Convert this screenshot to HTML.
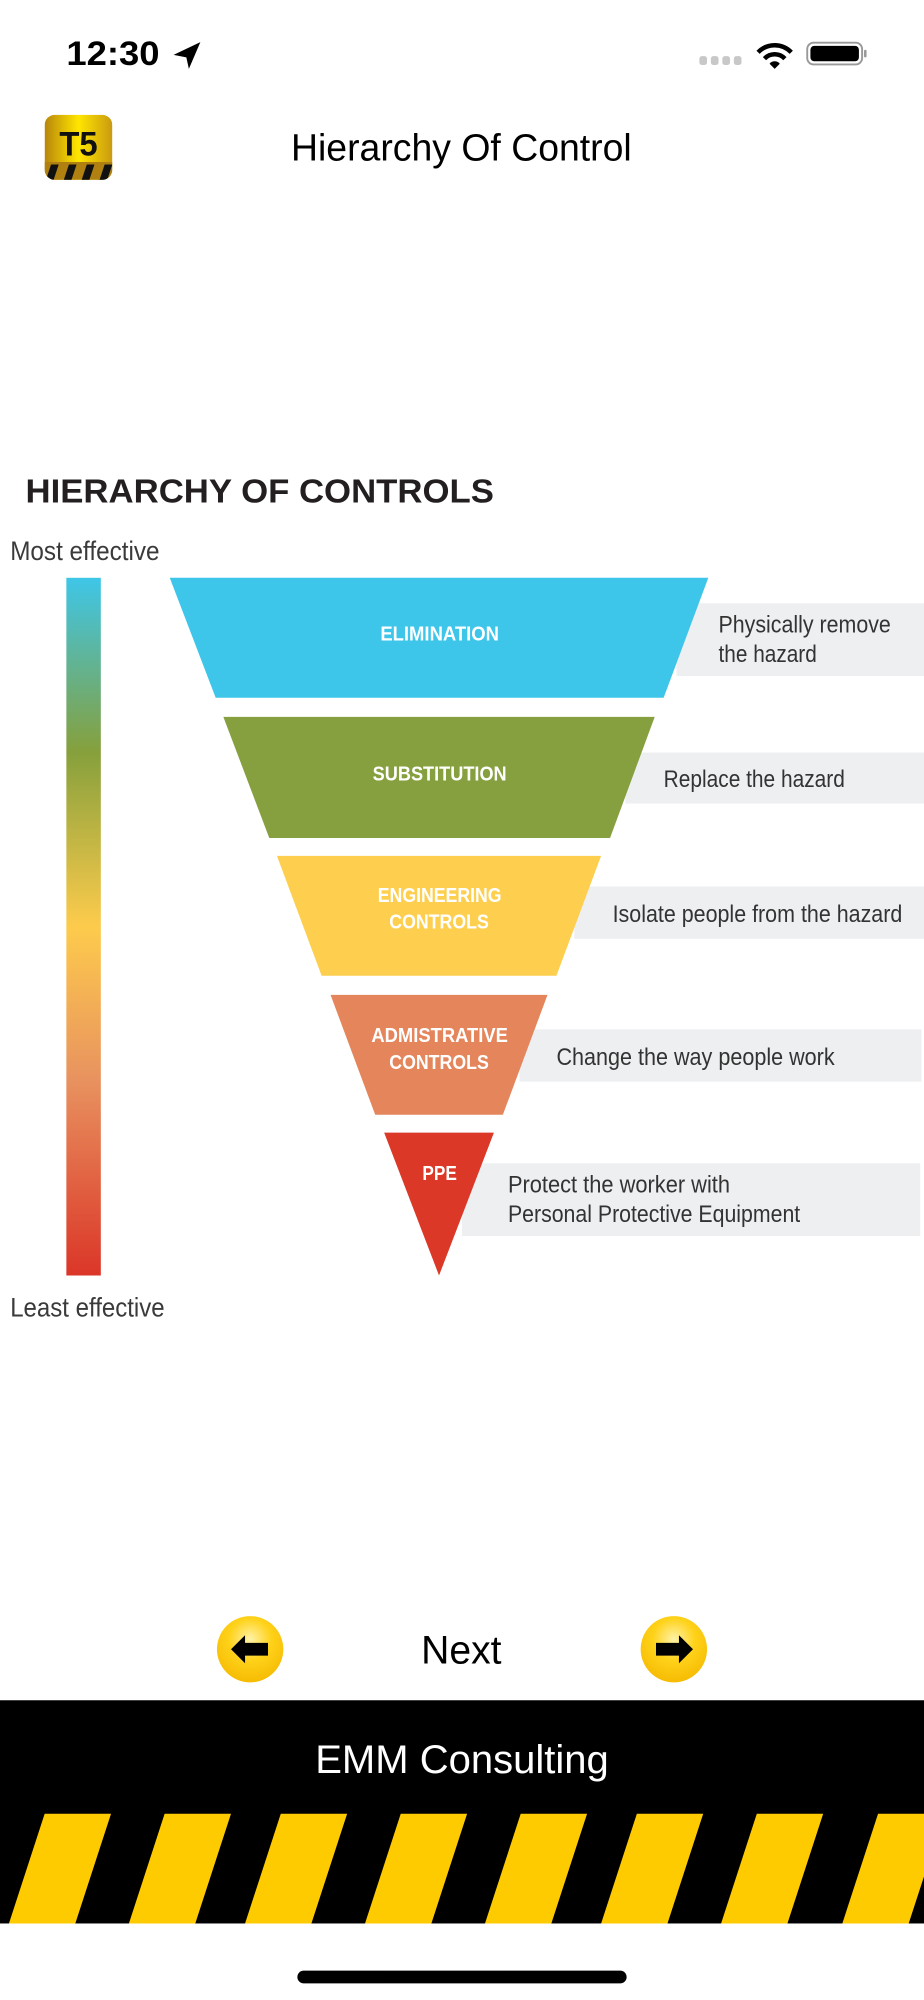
<!DOCTYPE html>
<html><head><meta charset="utf-8"><style>
html,body{margin:0;padding:0;background:#fff;}
svg{display:block;}
text{font-family:"Liberation Sans",sans-serif;}
</style></head><body>
<svg width="924" height="2000" viewBox="0 0 724 1568" preserveAspectRatio="none" xmlns="http://www.w3.org/2000/svg">
<defs>
<linearGradient id="bar" x1="0" y1="0" x2="0" y2="1">
<stop offset="0" stop-color="#3ec6e8"/><stop offset="0.25" stop-color="#86a03c"/>
<stop offset="0.5" stop-color="#fdcb4c"/><stop offset="0.72" stop-color="#e8925f"/>
<stop offset="1" stop-color="#db3628"/></linearGradient>
<linearGradient id="ic" x1="0" y1="0" x2="1" y2="0">
<stop offset="0" stop-color="#b8860b"/><stop offset="0.5" stop-color="#ffe600"/><stop offset="1" stop-color="#c99a10"/></linearGradient>
<radialGradient id="btn" cx="0.5" cy="0.35" r="0.7">
<stop offset="0" stop-color="#fff2a8"/><stop offset="0.45" stop-color="#ffd21a"/><stop offset="1" stop-color="#f5b800"/></radialGradient>
<clipPath id="icc"><rect x="35" y="90" width="53" height="51" rx="8"/></clipPath>
</defs>
<!-- status bar -->
<text x="52" y="51" font-weight="bold" font-size="27" textLength="73" lengthAdjust="spacingAndGlyphs" fill="#000">12:30</text>
<path d="M136 43 L157 33 L148 54 L146 45 Z" fill="#000"/>
<g fill="#c8c8c8"><rect x="548" y="44" width="6" height="7" rx="2"/><rect x="557" y="44" width="6" height="7" rx="2"/><rect x="566" y="44" width="6" height="7" rx="2"/><rect x="575" y="44" width="6" height="7" rx="2"/></g>
<g fill="none" stroke="#000" stroke-width="3.5"><path d="M594 41 A18 18 0 0 1 620 41"/><path d="M599 46 A11 11 0 0 1 615 46"/></g>
<path d="M603 50 L607 54 L611 50 A5 5 0 0 0 603 50Z" fill="#000"/>
<rect x="632.5" y="33.5" width="43" height="17" rx="5" fill="none" stroke="#999" stroke-width="1.5"/>
<rect x="635" y="36" width="38" height="12" rx="3" fill="#000"/>
<rect x="677" y="39" width="2" height="6" rx="1" fill="#999"/>
<!-- header -->
<g clip-path="url(#icc)"><rect x="35" y="90" width="53" height="51" fill="url(#ic)"/>
<rect x="35" y="127" width="53" height="14" fill="#b08010"/>
<g fill="#111"><path d="M36 141 L40 129 L46 129 L42 141Z"/><path d="M50 141 L54 129 L60 129 L56 141Z"/><path d="M64 141 L68 129 L74 129 L70 141Z"/><path d="M78 141 L82 129 L88 129 L84 141Z"/></g></g>
<text x="61.5" y="122" text-anchor="middle" font-weight="bold" font-size="27" textLength="30" lengthAdjust="spacingAndGlyphs" fill="#111">T5</text>
<text x="228" y="126" font-size="30" textLength="267" lengthAdjust="spacingAndGlyphs" fill="#000">Hierarchy Of Control</text>
<!-- diagram title -->
<text x="20" y="394" font-weight="bold" font-size="26" textLength="367" lengthAdjust="spacingAndGlyphs" fill="#231f20">HIERARCHY OF CONTROLS</text>
<text x="8" y="439" font-size="21" textLength="117" lengthAdjust="spacingAndGlyphs" fill="#3a3a3a">Most effective</text>
<rect x="52" y="453" width="27" height="547" fill="url(#bar)"/>
<text x="8" y="1032" font-size="21" textLength="121" lengthAdjust="spacingAndGlyphs" fill="#3a3a3a">Least effective</text>
<!-- gray boxes -->
<g fill="#eeeff1">
<rect x="530" y="473" width="194" height="57"/>
<rect x="490" y="590" width="234" height="40"/>
<rect x="450" y="695" width="274" height="41"/>
<rect x="407" y="807" width="315" height="41"/>
<rect x="362" y="912" width="359" height="57"/>
</g>
<!-- funnel -->
<polygon points="133,453 555,453 520,547 169,547" fill="#3dc5ea"/>
<polygon points="175,562 513,562 478,657 211,657" fill="#86a03f"/>
<polygon points="217,671 471,671 436,765 252,765" fill="#fecf4f"/>
<polygon points="259,780 429,780 394,874 294,874" fill="#e4855b"/>
<polygon points="301,888 387,888 344,1000" fill="#dc3828"/>
<g fill="#fff" font-weight="bold" font-size="16">
<text x="298" y="502" textLength="93" lengthAdjust="spacingAndGlyphs">ELIMINATION</text>
<text x="292" y="612" textLength="105" lengthAdjust="spacingAndGlyphs">SUBSTITUTION</text>
<text x="296" y="707" textLength="97" lengthAdjust="spacingAndGlyphs">ENGINEERING</text>
<text x="305" y="728" textLength="78" lengthAdjust="spacingAndGlyphs">CONTROLS</text>
<text x="291" y="817" textLength="107" lengthAdjust="spacingAndGlyphs">ADMISTRATIVE</text>
<text x="305" y="838" textLength="78" lengthAdjust="spacingAndGlyphs">CONTROLS</text>
<text x="331" y="925" textLength="27" lengthAdjust="spacingAndGlyphs">PPE</text>
</g>
<g fill="#333" font-size="19">
<text x="563" y="496" textLength="135" lengthAdjust="spacingAndGlyphs">Physically remove</text>
<text x="563" y="519" textLength="77" lengthAdjust="spacingAndGlyphs">the hazard</text>
<text x="520" y="617" textLength="142" lengthAdjust="spacingAndGlyphs">Replace the hazard</text>
<text x="480" y="723" textLength="227" lengthAdjust="spacingAndGlyphs">Isolate people from the hazard</text>
<text x="436" y="835" textLength="218" lengthAdjust="spacingAndGlyphs">Change the way people work</text>
<text x="398" y="935" textLength="174" lengthAdjust="spacingAndGlyphs">Protect the worker with</text>
<text x="398" y="958" textLength="229" lengthAdjust="spacingAndGlyphs">Personal Protective Equipment</text>
</g>
<!-- nav -->
<ellipse cx="196" cy="1293" rx="26" ry="26" fill="url(#btn)"/>
<path d="M181 1293 L192 1282 L192 1288 L210 1288 L210 1298 L192 1298 L192 1304 Z" fill="#000"/>
<ellipse cx="528" cy="1293" rx="26" ry="26" fill="url(#btn)"/>
<path d="M543 1293 L532 1282 L532 1288 L514 1288 L514 1298 L532 1298 L532 1304 Z" fill="#000"/>
<text x="330" y="1304" font-size="31" textLength="63" lengthAdjust="spacingAndGlyphs" fill="#000">Next</text>
<!-- footer -->
<rect x="0" y="1333" width="724" height="175" fill="#000"/>
<text x="247" y="1390" font-size="31" textLength="230" lengthAdjust="spacingAndGlyphs" fill="#fff">EMM Consulting</text>
<g fill="#fecb00">
<polygon points="35,1422 87,1422 59,1508 7,1508"/>
<polygon points="129,1422 181,1422 153,1508 101,1508"/>
<polygon points="220,1422 272,1422 244,1508 192,1508"/>
<polygon points="314,1422 366,1422 338,1508 286,1508"/>
<polygon points="408,1422 460,1422 432,1508 380,1508"/>
<polygon points="499,1422 551,1422 523,1508 471,1508"/>
<polygon points="593,1422 645,1422 617,1508 565,1508"/>
<polygon points="688,1422 740,1422 712,1508 660,1508"/>
</g>
<rect x="233" y="1545" width="258" height="10" rx="5" fill="#000"/>
</svg>
</body></html>
